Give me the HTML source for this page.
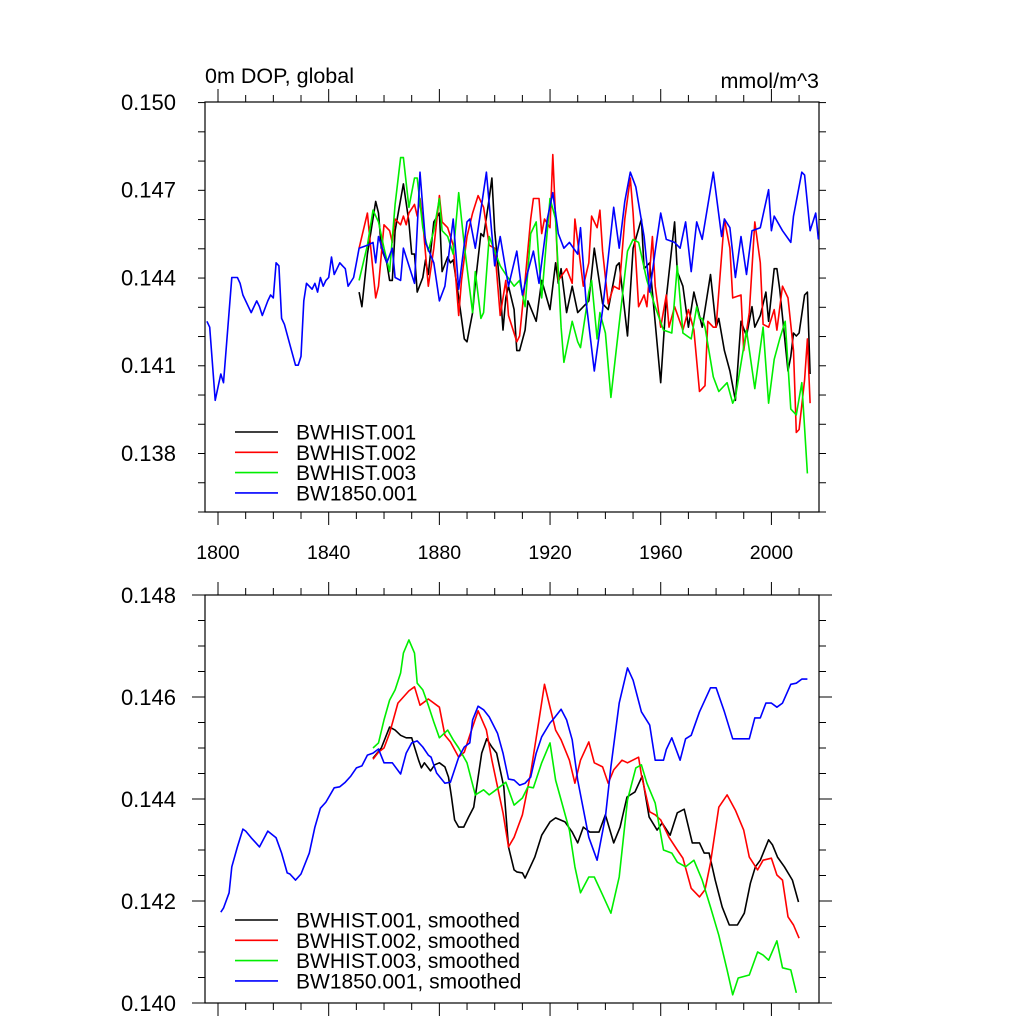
<!DOCTYPE html>
<html><head><meta charset="utf-8"><style>
html,body{margin:0;padding:0;background:#fff;}
svg{display:block;font-family:"Liberation Sans",Arial,sans-serif;}
</style></head><body>
<svg id="chart" width="1024" height="1024" viewBox="0 0 1024 1024" xmlns="http://www.w3.org/2000/svg">
<rect width="1024" height="1024" fill="#fff"/>
<text x="205" y="83" font-size="21.5">0m DOP, global</text>
<text x="819" y="88" font-size="21.5" text-anchor="end">mmol/m^3</text>
<g id="top"></g><g id="bot"></g>
</svg>
<script>
const xTickYears = [1800,1840,1880,1920,1960,2000];
const topYTicks = [0.138,0.141,0.144,0.147,0.150];
const topYTickLabels = ["0.138","0.141","0.144","0.147","0.150"];
const botYTicks = [0.140,0.142,0.144,0.146,0.148];
const botYTickLabels = ["0.140","0.142","0.144","0.146","0.148"];
const topLegend = ["BWHIST.001","BWHIST.002","BWHIST.003","BW1850.001"];
const botLegend = ["BWHIST.001, smoothed","BWHIST.002, smoothed","BWHIST.003, smoothed","BW1850.001, smoothed"];
const colors = ["#000","#f00","#0e0","#00f"];

const hist1 = [[1851,.1435],[1852,.1430],[1854,.1448],[1857,.1466],[1858,.1462],[1859,.1450],[1861,.1445],[1862,.1439],[1863,.1439],[1864,.1456],[1867,.1472],[1869,.1459],[1870,.1448],[1871,.1448],[1872,.1435],[1874,.1440],[1875,.1446],[1876,.1441],[1878,.1459],[1880,.1462],[1881,.1442],[1883,.1447],[1884,.1445],[1885,.1446],[1887,.1433],[1889,.1419],[1890,.1418],[1892,.1428],[1893,.1438],[1895,.1455],[1896,.1454],[1898,.1467],[1899,.1474],[1900,.1456],[1902,.1436],[1903,.1422],[1904,.1433],[1905,.1437],[1907,.1429],[1908,.1415],[1909,.1415],[1911,.1422],[1912,.1432],[1915,.1425],[1917,.1439],[1920,.1429],[1922,.1445],[1923,.1438],[1924,.1443],[1926,.1428],[1928,.1437],[1930,.1428],[1934,.1432],[1936,.1450],[1939,.1431],[1941,.1429],[1944,.1444],[1945,.1445],[1948,.1420],[1950,.1450],[1953,.1460],[1954,.1443],[1956,.1445],[1960,.1404],[1962,.1433],[1965,.1459],[1966,.1442],[1968,.1437],[1970,.1423],[1972,.1435],[1975,.1423],[1978,.1441],[1980,.1423],[1981,.1426],[1983,.1415],[1985,.1408],[1987,.1398],[1989,.1425],[1991,.1420],[1993,.1430],[1994,.1423],[1996,.1427],[1998,.1435],[1999,.1425],[2001,.1443],[2002,.1443],[2003,.1436],[2006,.1408],[2007,.1413],[2008,.1421],[2009,.1420],[2010,.1421],[2012,.1434],[2013,.1435],[2014,.1407]];
const hist2 = [[1851,.1450],[1854,.1462],[1855,.1452],[1857,.1433],[1858,.1437],[1860,.1458],[1862,.1456],[1863,.1452],[1864,.1460],[1866,.1458],[1867,.1461],[1868,.1458],[1869,.1462],[1871,.1465],[1872,.1461],[1873,.1467],[1874,.1459],[1876,.1437],[1878,.1450],[1880,.1468],[1881,.1459],[1883,.1457],[1885,.1451],[1887,.1427],[1888,.1439],[1890,.1454],[1892,.1462],[1894,.1468],[1896,.1464],[1898,.1451],[1900,.1450],[1902,.1427],[1904,.1439],[1905,.1427],[1908,.1418],[1909,.1420],[1911,.1439],[1913,.1460],[1914,.1467],[1916,.1467],[1917,.1455],[1918,.1460],[1920,.1457],[1921,.1482],[1923,.1439],[1926,.1443],[1928,.1438],[1929,.1460],[1932,.1437],[1934,.1445],[1935,.1461],[1937,.1457],[1938,.1463],[1939,.1449],[1941,.1431],[1943,.1437],[1945,.1436],[1947,.1460],[1949,.1474],[1950,.1462],[1952,.1430],[1954,.1434],[1955,.1430],[1957,.1454],[1958,.1437],[1960,.1423],[1962,.1434],[1963,.1423],[1965,.1430],[1968,.1422],[1970,.1429],[1972,.1422],[1974,.1401],[1976,.1403],[1977,.1425],[1979,.1423],[1980,.1423],[1983,.1460],[1985,.1450],[1986,.1433],[1989,.1434],[1990,.1415],[1992,.1428],[1994,.1459],[1996,.1445],[1997,.1424],[1999,.1423],[2001,.1429],[2002,.1422],[2004,.1437],[2006,.1433],[2008,.1415],[2009,.1387],[2010,.1388],[2012,.1405],[2013,.1419],[2014,.1397]];
const hist3 = [[1851,.1439],[1854,.1451],[1856,.1463],[1858,.1459],[1860,.1450],[1862,.1442],[1864,.1465],[1866,.1481],[1867,.1481],[1869,.1464],[1871,.1474],[1872,.1474],[1874,.1457],[1876,.1449],[1878,.1456],[1880,.1467],[1881,.1456],[1883,.1454],[1885,.1448],[1887,.1469],[1889,.1451],[1892,.1428],[1893,.1442],[1895,.1426],[1896,.1428],[1898,.1454],[1902,.1444],[1904,.1441],[1907,.1437],[1909,.1439],[1911,.1430],[1913,.1455],[1915,.1459],[1917,.1433],[1920,.1467],[1922,.1460],[1924,.1423],[1925,.1411],[1928,.1425],[1930,.1418],[1931,.1416],[1934,.1435],[1935,.1439],[1937,.1419],[1938,.1428],[1940,.1421],[1942,.1399],[1944,.1416],[1948,.1449],[1950,.1453],[1952,.1452],[1955,.1439],[1958,.1430],[1961,.1422],[1964,.1421],[1966,.1444],[1968,.1421],[1971,.1419],[1973,.1430],[1974,.1426],[1975,.1426],[1976,.1423],[1979,.1406],[1981,.1401],[1984,.1404],[1986,.1397],[1987,.1399],[1991,.1422],[1994,.1402],[1997,.1423],[1999,.1397],[2001,.1412],[2003,.1419],[2005,.1425],[2007,.1395],[2009,.1393],[2011,.1404],[2013,.1373]];
const ctl = [[1796,.1425],[1797,.1423],[1799,.1398],[1801,.1407],[1802,.1404],[1805,.1440],[1807,.1440],[1808,.1438],[1809,.1434],[1811,.1430],[1812,.1428],[1814,.1432],[1815,.1430],[1816,.1427],[1818,.1432],[1819,.1434],[1820,.1433],[1821,.1445],[1822,.1444],[1823,.1426],[1824,.1424],[1826,.1417],[1828,.1410],[1829,.1410],[1830,.1413],[1831,.1432],[1832,.1438],[1834,.1436],[1835,.1438],[1836,.1435],[1837,.1440],[1838,.1437],[1839,.1439],[1840,.1440],[1841,.1447],[1842,.1441],[1843,.1443],[1844,.1445],[1845,.1444],[1846,.1443],[1847,.1437],[1849,.1440],[1850,.1445],[1851,.1450],[1854,.1451],[1856,.1452],[1857,.1445],[1858,.1454],[1861,.1445],[1863,.1450],[1864,.1440],[1866,.1439],[1867,.1450],[1871,.1438],[1873,.1476],[1875,.1452],[1878,.1445],[1880,.1432],[1882,.1437],[1885,.1460],[1887,.1436],[1890,.1459],[1891,.1460],[1893,.1450],[1897,.1476],[1900,.1444],[1902,.1454],[1905,.1437],[1908,.1449],[1910,.1434],[1912,.1442],[1914,.1449],[1916,.1438],[1919,.1460],[1921,.1469],[1923,.1455],[1925,.1450],[1927,.1452],[1930,.1448],[1931,.1457],[1933,.1432],[1936,.1408],[1939,.1429],[1943,.1464],[1945,.1450],[1947,.1466],[1949,.1476],[1951,.1471],[1954,.1454],[1956,.1435],[1958,.1449],[1960,.1462],[1962,.1453],[1965,.1452],[1967,.1450],[1969,.1459],[1971,.1442],[1973,.1459],[1975,.1453],[1979,.1476],[1982,.1454],[1983,.1460],[1985,.1457],[1987,.1440],[1989,.1454],[1991,.1441],[1993,.1456],[1996,.1457],[1999,.1470],[2000,.1456],[2001,.1461],[2004,.1456],[2007,.1452],[2008,.1461],[2011,.1476],[2012,.1475],[2014,.1456],[2016,.1462],[2017,.1453]];

const hist1s = [[1856,.14480],[1859,.14500],[1862,.14541],[1864,.14535],[1866,.14525],[1868,.14520],[1870,.14520],[1871,.14502],[1872.5,.14476],[1873.5,.14461],[1874.6,.14471],[1876.8,.14455],[1878.3,.14467],[1880,.14471],[1882,.14463],[1883.3,.14443],[1884.4,.14404],[1885.5,.14359],[1887,.14345],[1888.8,.14345],[1890.6,.14365],[1892.4,.14384],[1893.5,.14424],[1895.3,.14490],[1897.1,.14518],[1899,.14502],[1900.7,.14490],[1903.3,.14424],[1905,.14306],[1907,.14261],[1908,.14257],[1910,.14255],[1911,.14245],[1914.5,.14286],[1917,.14329],[1920,.14355],[1922,.14363],[1925.4,.14355],[1928,.14335],[1930,.14314],[1932,.14345],[1934.4,.14335],[1937.7,.14335],[1940,.14369],[1943,.14314],[1945.3,.14345],[1947.8,.14404],[1950.7,.14414],[1953.3,.14445],[1955.8,.14365],[1958.7,.14339],[1960.5,.14353],[1963.4,.14329],[1966,.14373],[1968.5,.14380],[1971.4,.14314],[1974,.14314],[1975.7,.14294],[1977.5,.14294],[1979.7,.14241],[1982.2,.14188],[1984.8,.14153],[1987.7,.14153],[1990.2,.14176],[1992.4,.14235],[1994.2,.14267],[1996,.14280],[1999,.14320],[2000.4,.14310],[2002.2,.14286],[2004.7,.14267],[2007.6,.14241],[2009.8,.14198]];
const hist2s = [[1856,.14478],[1858,.14492],[1860,.14500],[1862,.14529],[1865,.14588],[1867,.14600],[1869,.14612],[1871,.14620],[1873,.14584],[1876,.14596],[1880,.14580],[1882,.14525],[1884,.14512],[1887,.14482],[1889,.14492],[1891,.14525],[1894,.14573],[1897,.14535],[1899,.14476],[1903,.14373],[1905,.14306],[1907,.14325],[1910,.14369],[1913,.14451],[1916,.14555],[1918,.14625],[1920,.14580],[1922,.14535],[1924,.14516],[1927,.14476],[1929,.14431],[1931,.14476],[1934,.14512],[1936,.14471],[1939,.14463],[1941,.14431],[1943,.14457],[1946,.14476],[1948,.14471],[1952,.14482],[1953,.14447],[1956,.14375],[1958,.14369],[1960,.14359],[1963,.14325],[1966,.14300],[1968,.14284],[1971,.14225],[1974,.14208],[1976,.14222],[1978,.14275],[1981,.14384],[1984,.14408],[1987,.14378],[1990,.14339],[1992,.14286],[1995,.14261],[1997,.14280],[2000,.14284],[2002,.14251],[2004,.14241],[2006,.14169],[2008,.14153],[2010,.14127]];
const hist3s = [[1856,.14500],[1858,.14510],[1860,.14555],[1862,.14594],[1864,.14614],[1866,.14647],[1867,.14686],[1869,.14712],[1871,.14686],[1872,.14627],[1874,.14614],[1876,.14584],[1878,.14551],[1880,.14520],[1883,.14535],[1885,.14516],[1887,.14500],[1890,.14471],[1893,.14408],[1896,.14418],[1898,.14408],[1900,.14416],[1904,.14433],[1907,.14388],[1910,.14402],[1912,.14424],[1914,.14422],[1917,.14471],[1920,.14510],[1922,.14437],[1924,.14398],[1927,.14339],[1929,.14267],[1931,.14216],[1934,.14247],[1936,.14247],[1939,.14212],[1942,.14176],[1945,.14247],[1948,.14398],[1951,.14461],[1953,.14467],[1955,.14431],[1958,.14392],[1961,.14300],[1964,.14294],[1966,.14276],[1969,.14267],[1972,.14280],[1975,.14241],[1978,.14188],[1981,.14133],[1984,.14065],[1986,.14016],[1988,.14049],[1992,.14055],[1995,.14100],[1997,.14094],[1999,.14084],[2002,.14122],[2004,.14069],[2007,.14065],[2009,.14020]];
const ctls = [[1801,.14178],[1802,.14186],[1804,.14216],[1805,.14267],[1807,.14306],[1809,.14341],[1810,.14337],[1812,.14324],[1815,.14306],[1818,.14337],[1821,.14324],[1823,.14294],[1825,.14255],[1826,.14253],[1828,.14241],[1830,.14253],[1833,.14294],[1835,.14345],[1837,.14382],[1839,.14394],[1842,.14422],[1844,.14424],[1846,.14433],[1848,.14445],[1850,.14461],[1852,.14465],[1854,.14486],[1856,.14490],[1858,.14498],[1860,.14471],[1863,.14471],[1866,.14449],[1868,.14490],[1870,.14510],[1872,.14514],[1874,.14502],[1876,.14486],[1877,.14482],[1879,.14451],[1882,.14431],[1884,.14433],[1887,.14482],[1889,.14502],[1891,.14510],[1892,.14555],[1894,.14582],[1896,.14575],[1898,.14561],[1901,.14529],[1903,.14490],[1905,.14439],[1907,.14437],[1909,.14427],[1911,.14431],[1913,.14443],[1915,.14490],[1917,.14522],[1920,.14549],[1921,.14555],[1924,.14576],[1926,.14555],[1928,.14516],[1930,.14437],[1934,.14325],[1937,.14280],[1940,.14365],[1942,.14463],[1945,.14588],[1948,.14657],[1950,.14633],[1953,.14571],[1956,.14545],[1958,.14476],[1961,.14476],[1962,.14497],[1964,.14520],[1967,.14476],[1969,.14518],[1971,.14525],[1974,.14571],[1978,.14618],[1980,.14618],[1983,.14571],[1986,.14518],[1990,.14518],[1992,.14518],[1994,.14559],[1996,.14559],[1998,.14588],[2000,.14588],[2002,.14580],[2004,.14588],[2007,.14625],[2009,.14627],[2011,.14635],[2013,.14635]];

const NS = "http://www.w3.org/2000/svg";
const X0 = 205, X1 = 819, YR0 = 1795.3, YR1 = 2017.2;
function xs(yr){ return X0 + (yr - YR0) / (YR1 - YR0) * (X1 - X0); }
function mk(parent, tag, attrs){
  const e = document.createElementNS(NS, tag);
  for (const k in attrs) e.setAttribute(k, attrs[k]);
  parent.appendChild(e); return e;
}
function panel(g, top, bottom, vmin, vmax, majors, majorLabels, minorStep, series, legend, legTop, showXLabels, prefix){
  const ys = v => bottom - (v - vmin) / (vmax - vmin) * (bottom - top);
  const frame = mk(g, 'rect', {x:X0, y:top, width:X1-X0, height:bottom-top, fill:'none', stroke:'#000', 'stroke-width':1.2});
  
  
  for (let v = vmin; v <= vmax + 1e-9; v += minorStep) {
    const y = ys(v);
    const isMajor = majors.some(m => Math.abs(m - v) < 1e-7);
    const len = isMajor ? 13 : 7;
    const t1 = mk(g, 'line', {x1:X0-len, x2:X0, y1:y, y2:y, stroke:'#000', 'stroke-width':1});
    
    
    const t2 = mk(g, 'line', {x1:X1, x2:X1+len, y1:y, y2:y, stroke:'#000', 'stroke-width':1});
    
    
  }
  majors.forEach((m, i) => {
    const t = mk(g, 'text', {x:176, y:ys(m)+8, 'font-size':22, 'text-anchor':'end'});
    t.textContent = majorLabels[i];
    
    
  });
  for (let yr = 1800; yr <= 2010; yr += 10) {
    const x = xs(yr);
    const isMajor = xTickYears.indexOf(yr) >= 0;
    const len = isMajor ? 13 : 7;
    const a = mk(g, 'line', {x1:x, x2:x, y1:bottom, y2:bottom+len, stroke:'#000', 'stroke-width':1});
    
    
    const b = mk(g, 'line', {x1:x, x2:x, y1:top-len, y2:top, stroke:'#000', 'stroke-width':1});
    
    
  }
  if (showXLabels) {
    xTickYears.forEach(yr => {
      const t = mk(g, 'text', {x:xs(yr), y:bottom+47, 'font-size':19.5, 'text-anchor':'middle'});
      t.textContent = String(yr);
      
      
    });
  }
  const clipId = prefix + 'clip';
  const cp = mk(g, 'clipPath', {id:clipId});
  mk(cp, 'rect', {x:X0, y:top, width:X1-X0, height:bottom-top});
  const names = ['hist001','hist002','hist003','bw1850'];
  series.forEach((s, i) => {
    const d = s.map((p, j) => (j ? 'L' : 'M') + xs(p[0]).toFixed(1) + ' ' + ys(p[1]).toFixed(1)).join('');
    const pth = mk(g, 'path', {d:d, fill:'none', stroke:colors[i], 'stroke-width':1.6, 'stroke-linejoin':'round', 'clip-path':'url(#'+clipId+')'});
    
    
  });
  legend.forEach((lab, i) => {
    const y = legTop + i * 20.3;
    const ln = mk(g, 'line', {x1:235, x2:278, y1:y, y2:y, stroke:colors[i], 'stroke-width':1.6});
    
    
    const t = mk(g, 'text', {x:296, y:y+7.5, 'font-size':21});
    t.textContent = lab;
    
    
  });
}
panel(document.getElementById('top'), 102, 512, 0.13598, 0.150, topYTicks, topYTickLabels, 0.001,
  [hist1, hist2, hist3, ctl], topLegend, 432, true, 'top');
panel(document.getElementById('bot'), 595, 1003, 0.140, 0.148, botYTicks, botYTickLabels, 0.0005,
  [hist1s, hist2s, hist3s, ctls], botLegend, 920, false, 'bottom');
</script>
</body></html>
